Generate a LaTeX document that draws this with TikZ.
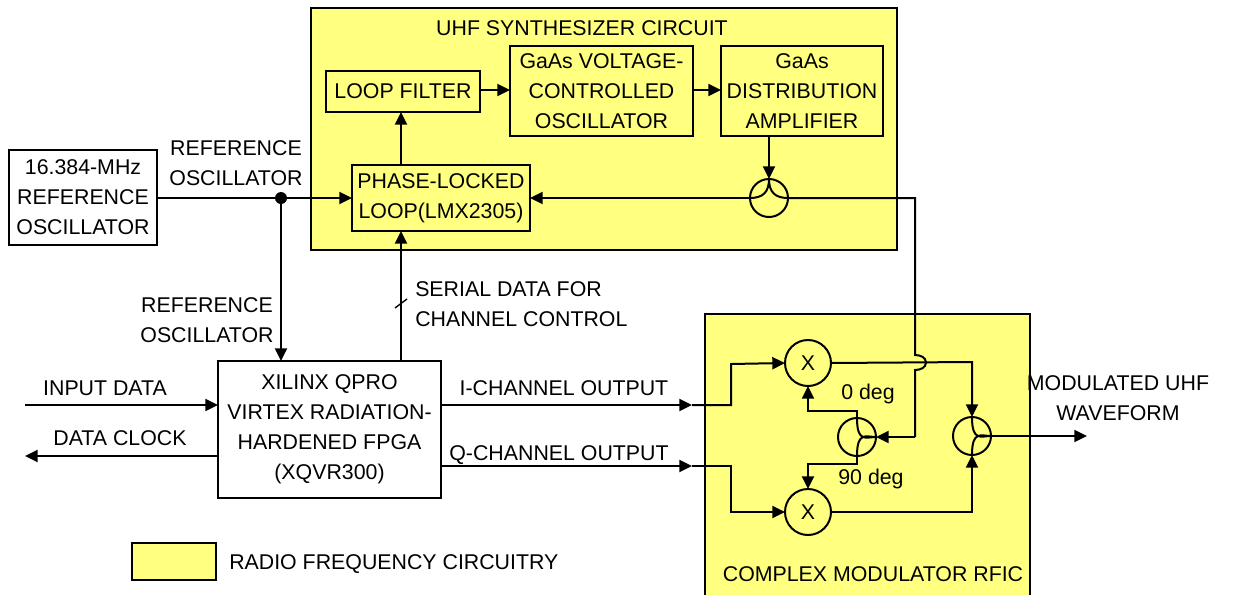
\documentclass[tikz,border=0pt]{standalone}
\usepackage{fontspec}
\setmainfont{Liberation Sans}
\usetikzlibrary{arrows.meta}
\definecolor{rfy}{HTML}{FFFF80}
\tikzset{
 px/.style={x=0.75pt,y=-0.75pt},
 conn/.style={line width=1.5pt,line join=miter},
 arr/.style={conn,-{Triangle[length=9.5pt,width=9pt]}},
 region/.style={draw,line width=1.5pt,fill=rfy,outer sep=0pt},
 blockb/.style={draw,line width=1.5pt,align=center,inner sep=0pt,anchor=north west,outer sep=0pt},
 wbox/.style={blockb,fill=white},
 ybox/.style={blockb,fill=rfy},
 lab/.style={inner sep=0pt,align=center,font=\fontsize{16}{22.5}\selectfont},
 circ/.style={draw,circle,line width=1.5pt,inner sep=0pt,fill=rfy,outer sep=0pt},
}
\newcommand{\boxat}[6]{\node[#1,minimum width=#4*0.75pt,minimum height=#5*0.75pt,lab] (#2) at (#3) {#6};}
\begin{document}
\begin{tikzpicture}[px]
\useasboundingbox (0,0) rectangle (1233,594);
% regions
\fill[white] (0,0) rectangle (1233,594);
\node[region,anchor=north west,minimum width=586*0.75pt,minimum height=242*0.75pt,inner sep=0pt] (uhf) at (311,8) {};
\draw[region] (705,600) |- (1030,314) -- (1030,600);
\node[region,anchor=north west,minimum width=84*0.75pt,minimum height=37*0.75pt,inner sep=0pt] (legend) at (132,543) {};
% blocks
\boxat{wbox}{refosc}{9,150}{148}{95}{16.384-MHz\\REFERENCE\\OSCILLATOR}
\boxat{ybox}{lf}{326,71}{154}{41}{LOOP FILTER}
\boxat{ybox}{vco}{510,46}{183}{90}{GaAs VOLTAGE-\\CONTROLLED\\OSCILLATOR}
\boxat{ybox}{amp}{721,46}{162}{90}{GaAs\\DISTRIBUTION\\AMPLIFIER}
\boxat{ybox}{pll}{352,165}{178}{66}{PHASE-LOCKED\\LOOP(LMX2305)}
\boxat{wbox}{fpga}{218,361}{223}{137}{XILINX QPRO\\VIRTEX RADIATION-\\HARDENED FPGA\\(XQVR300)}
% circles
\node[circ,minimum size=38*0.75pt] (c1) at (769,198) {};
\node[circ,minimum size=46*0.75pt,lab] (mi) at (808,363) {X};
\node[circ,minimum size=46*0.75pt,lab] (mq) at (808,512) {X};
\node[circ,minimum size=38*0.75pt] (sp) at (857,437) {};
\node[circ,minimum size=38*0.75pt] (cb) at (972,436) {};
% free points
\coordinate (dot) at (281,198);
\coordinate (inS) at (25,405);
\coordinate (ckE) at (25,456);
\coordinate (outE) at (1087,436);
\coordinate (iend) at (692,405);
\coordinate (qend) at (692,466);
% connectors
\draw[conn] (refosc.east |- dot) -- (dot);
\draw[arr] (dot) -- (pll.west |- dot);
\draw[arr] (dot) -- (dot |- fpga.north);
\fill (dot) circle (6);
\draw[arr] (401,0 |- fpga.north) -- (401,0 |- pll.south);
\draw[arr] (401,0 |- pll.north) -- (401,0 |- lf.south);
\draw[arr] (lf.east |- 0,90) -- (vco.west |- 0,90);
\draw[arr] (vco.east |- 0,90) -- (amp.west |- 0,90);
\draw[arr] (c1.north |- amp.south) -- (c1.north);
\draw[arr] (c1.west) -- (pll.east |- c1.west);
\draw[line width=1pt] (395,308) -- (407,299);
% combiner in UHF
\draw[conn] (c1.north) .. controls (769,192) and (763,198) .. (c1.west);
\draw[conn] (c1.north) .. controls (769,192) and (775,198) .. (c1.east);
% LO line with hop
\draw[conn] (c1.east) -- (915,198) -- (915,355) to[out=0,in=90] (926,362.5) to[out=-90,in=0] (915,370) -- (915,437);
\draw[arr] (915,437) -- (sp.east);
% splitter
\draw[conn] (sp.east) .. controls (866,437) and (857,443) .. (sp.north);
\draw[conn] (sp.east) .. controls (866,437) and (857,431) .. (sp.south);
\draw[arr] (sp.north) -- (857,411) -- (808,411) -- (mi.south);
\draw[arr] (sp.south) -- (857,464) -- (808,464) -- (mq.north);
% I / Q
\draw[arr] (fpga.east |- iend) -- (iend);
\draw[arr] (iend) -- (731,405) -- (731,364) -- (mi.west);
\draw[arr] (fpga.east |- qend) -- (qend);
\draw[arr] (qend) -- (731,466) -- (731,512) -- (mq.west);
% combiner
\draw[arr] (mi.east) -- (972,362) -- (cb.north);
\draw[arr] (mq.east) -- (972,512) -- (cb.south);
\draw[conn] (cb.east) .. controls (981,436) and (972,442) .. (cb.north);
\draw[conn] (cb.east) .. controls (981,436) and (972,430) .. (cb.south);
\draw[arr] (cb.east) -- (outE);
% data
\draw[arr] (inS) -- (fpga.west |- inS);
\draw[arr] (fpga.west |- ckE) -- (ckE);
% labels
\node[lab] (t1) at (582,28) {UHF SYNTHESIZER CIRCUIT};
\node[lab] (t2) at (236,163) {REFERENCE\\OSCILLATOR};
\node[lab] (t3) at (207,320) {REFERENCE\\OSCILLATOR};
\node[lab,align=left,anchor=west] (t4) at (415,304) {SERIAL DATA FOR\\CHANNEL CONTROL};
\node[lab] (t5) at (105,388) {INPUT DATA};
\node[lab] (t6) at (120,438) {DATA CLOCK};
\node[lab] (t7) at (564,388) {I-CHANNEL OUTPUT};
\node[lab] (t8) at (559,455) {Q-CHANNEL OUTPUT};
\node[lab] (t9) at (868,394) {0 deg};
\node[lab] (t10) at (871,479) {90 deg};
\node[lab] (t11) at (1118,398) {MODULATED UHF\\WAVEFORM};
\node[lab] (t12) at (873,574) {COMPLEX MODULATOR RFIC};
\node[lab,anchor=west] (t13) at (229,564) {RADIO FREQUENCY CIRCUITRY};
\end{tikzpicture}
\end{document}
